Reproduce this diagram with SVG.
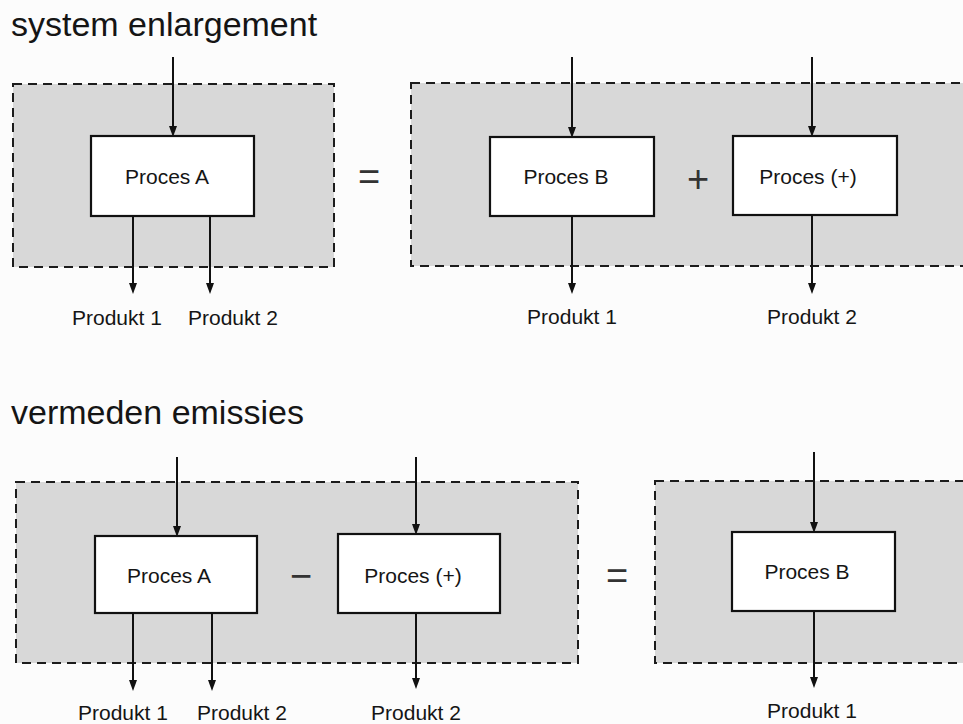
<svg xmlns="http://www.w3.org/2000/svg" width="963" height="724" viewBox="0 0 963 724">
  <style>
    .title { font-family: "Liberation Sans", Arial, sans-serif; font-size: 34px; fill: #151515; }
    .lbl { font-family: "Liberation Sans", Arial, sans-serif; font-size: 21px; fill: #151515; }
    .op { font-family: "Liberation Sans", Arial, sans-serif; font-size: 38px; fill: #333; text-anchor: middle; }
    .sys { fill: #d8d8d8; stroke: #1c1c1c; stroke-width: 2; stroke-dasharray: 9 6; }
    .box { fill: #ffffff; stroke: #111; stroke-width: 2.2; }
    .arr { stroke: #111; stroke-width: 2; fill: none; marker-end: url(#ah); }
    .mid { text-anchor: middle; }
  </style>
  <defs>
    <marker id="ah" viewBox="0 0 11 8" refX="6" refY="4" markerWidth="11" markerHeight="8" markerUnits="userSpaceOnUse" orient="auto">
      <path d="M0,0 L11,4 L0,8 z" fill="#111"/>
    </marker>
  </defs>
  <rect x="0" y="0" width="963" height="724" fill="#fcfcfc"/>

  <!-- titles -->
  <text class="title" x="11" y="36">system enlargement</text>
  <text class="title" x="11" y="424">vermeden emissies</text>

  <!-- system boundaries -->
  <g id="sys-top-left"><rect class="sys" x="13" y="84" width="321" height="183"/></g>
  <g id="sys-top-right"><rect class="sys" x="411" y="83" width="570" height="183"/></g>
  <g id="sys-bottom-left"><rect class="sys" x="16" y="482" width="562" height="181"/></g>
  <g id="sys-bottom-right"><rect class="sys" x="655" y="481" width="330" height="182"/></g>

  <!-- operators -->
  <text class="op" x="369" y="190">=</text>
  <text class="op" x="698" y="192">+</text>
  <text class="op" x="301" y="589">−</text>
  <text class="op" x="617" y="589">=</text>

  <!-- connectors -->
  <g id="connectors">
    <line class="arr" x1="173" y1="57" x2="173" y2="132"/>
    <line class="arr" x1="133" y1="217" x2="133" y2="289"/>
    <line class="arr" x1="210" y1="217" x2="210" y2="289"/>

    <line class="arr" x1="572" y1="57" x2="572" y2="133"/>
    <line class="arr" x1="572" y1="217" x2="572" y2="289"/>
    <line class="arr" x1="812" y1="57" x2="812" y2="132"/>
    <line class="arr" x1="812" y1="216" x2="812" y2="289"/>

    <line class="arr" x1="177" y1="457" x2="177" y2="532"/>
    <line class="arr" x1="133" y1="614" x2="133" y2="686"/>
    <line class="arr" x1="212" y1="614" x2="212" y2="686"/>

    <line class="arr" x1="416" y1="457" x2="416" y2="530"/>
    <line class="arr" x1="416" y1="614" x2="416" y2="684"/>

    <line class="arr" x1="814" y1="452" x2="814" y2="528"/>
    <line class="arr" x1="814" y1="612" x2="814" y2="683"/>
  </g>

  <!-- process nodes -->
  <g id="proces-a-top">
    <rect class="box" x="91" y="136" width="163" height="80"/>
    <text class="lbl mid" x="167" y="184">Proces A</text>
  </g>
  <g id="proces-b-top">
    <rect class="box" x="490" y="137" width="164" height="79"/>
    <text class="lbl mid" x="566" y="184">Proces B</text>
  </g>
  <g id="proces-plus-top">
    <rect class="box" x="733" y="136" width="164" height="79"/>
    <text class="lbl mid" x="808" y="184">Proces (+)</text>
  </g>
  <g id="proces-a-bottom">
    <rect class="box" x="95" y="536" width="162" height="77"/>
    <text class="lbl mid" x="169" y="583">Proces A</text>
  </g>
  <g id="proces-plus-bottom">
    <rect class="box" x="338" y="534" width="162" height="79"/>
    <text class="lbl mid" x="413" y="583">Proces (+)</text>
  </g>
  <g id="proces-b-bottom">
    <rect class="box" x="732" y="532" width="163" height="79"/>
    <text class="lbl mid" x="807" y="579">Proces B</text>
  </g>

  <!-- product labels -->
  <g id="products">
    <text class="lbl" x="72" y="325">Produkt 1</text>
    <text class="lbl" x="188" y="325">Produkt 2</text>
    <text class="lbl mid" x="572" y="324">Produkt 1</text>
    <text class="lbl mid" x="812" y="324">Produkt 2</text>
    <text class="lbl" x="78" y="720">Produkt 1</text>
    <text class="lbl" x="197" y="720">Produkt 2</text>
    <text class="lbl mid" x="416" y="720">Produkt 2</text>
    <text class="lbl mid" x="812" y="718">Produkt 1</text>
  </g>
</svg>
